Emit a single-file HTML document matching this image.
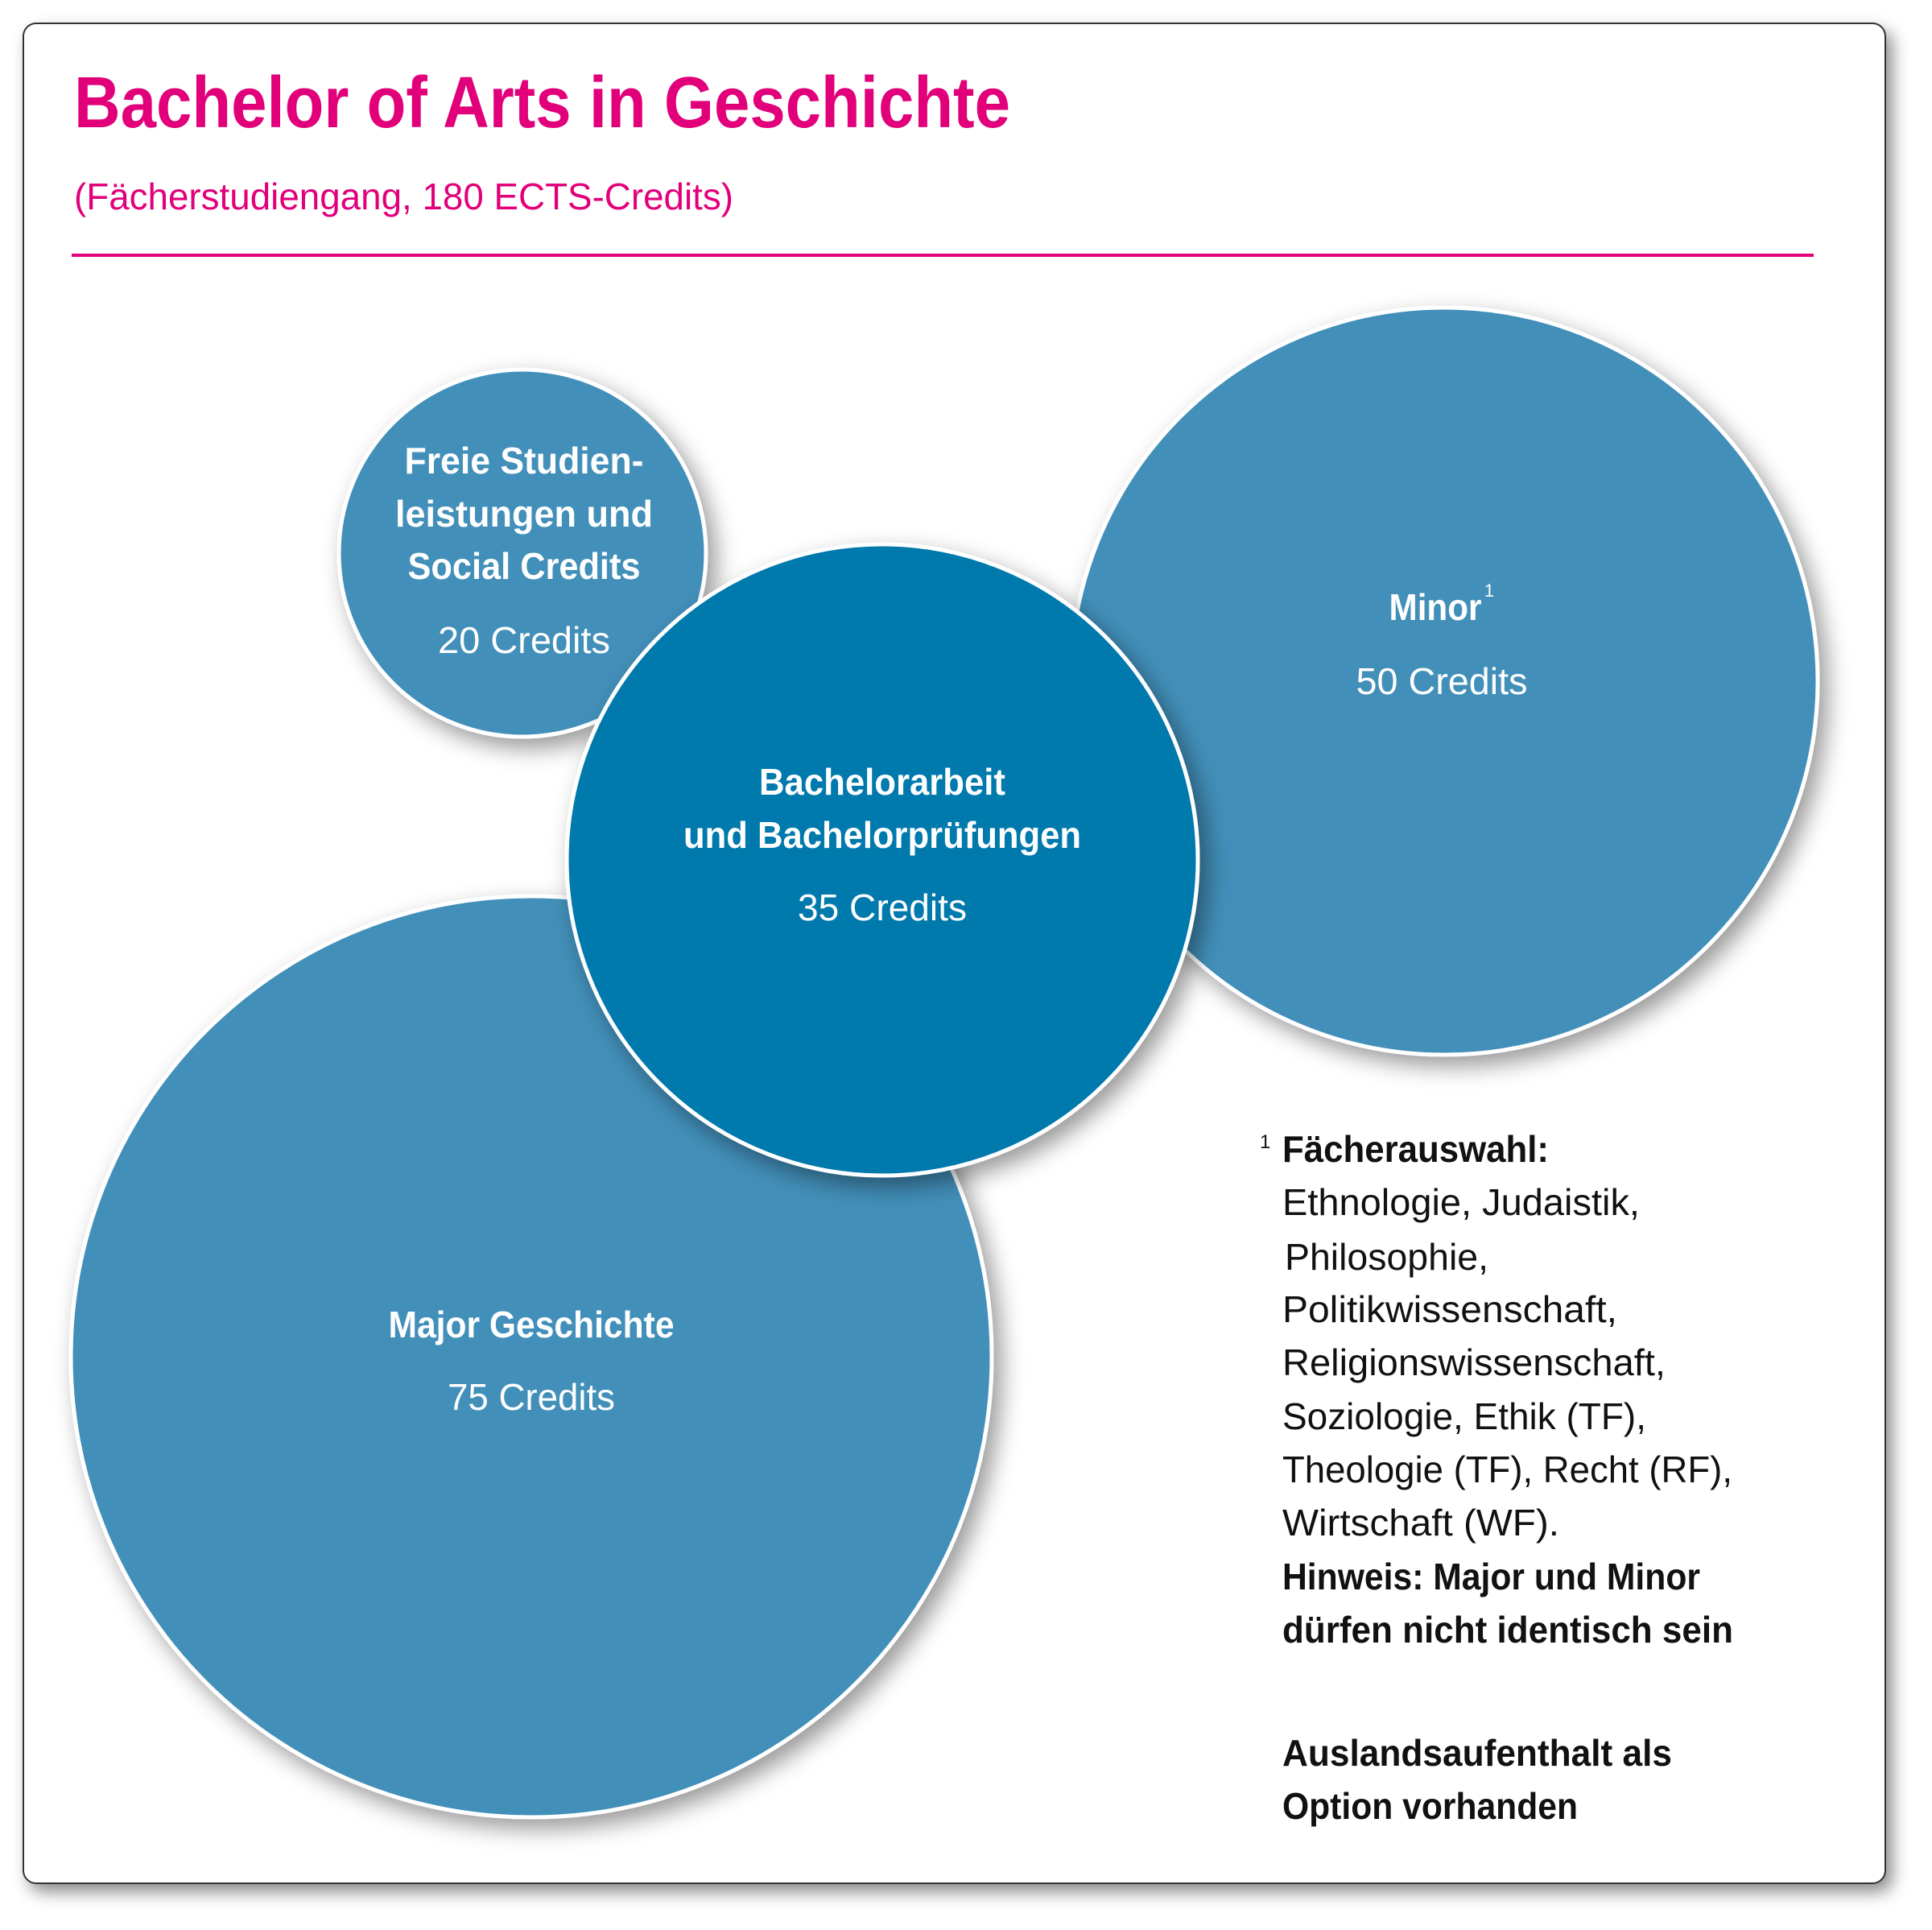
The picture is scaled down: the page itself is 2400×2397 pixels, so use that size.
<!DOCTYPE html>
<html><head><meta charset="utf-8"><style>
html,body{margin:0;padding:0;background:#fff;}
svg{display:block;}
text{font-family:"Liberation Sans",sans-serif;}
</style></head><body>
<svg width="2400" height="2397" viewBox="0 0 2400 2397" xmlns="http://www.w3.org/2000/svg">
<defs>
<filter id="fs" x="-10%" y="-10%" width="125%" height="125%">
<feDropShadow dx="8" dy="10" stdDeviation="10" flood-color="#000" flood-opacity="0.45"/>
</filter>
<filter id="cs" x="-20%" y="-20%" width="145%" height="145%">
<feDropShadow dx="10" dy="12" stdDeviation="14" flood-color="#000" flood-opacity="0.4"/>
</filter>
</defs>
<rect x="0" y="0" width="2400" height="2397" fill="#fff"/>
<rect x="29" y="29" width="2313" height="2310" rx="16" fill="#fff" stroke="#333" stroke-width="2" filter="url(#fs)"/>

<text x="92" y="158" font-size="90" font-weight="bold" fill="#e2007a" textLength="1163" lengthAdjust="spacingAndGlyphs">Bachelor of Arts in Geschichte</text>
<text x="92" y="260" font-size="46" fill="#e2007a" textLength="819" lengthAdjust="spacingAndGlyphs">(Fächerstudiengang, 180 ECTS-Credits)</text>
<rect x="89" y="315" width="2164" height="4" fill="#e2007a"/>

<g stroke="#fff" stroke-width="5">
<circle cx="649" cy="687" r="228" fill="#428fb9" filter="url(#cs)"/>
<circle cx="1794" cy="846" r="464" fill="#428fb9" filter="url(#cs)"/>
<circle cx="660" cy="1685" r="572" fill="#428fb9" filter="url(#cs)"/>
<circle cx="1096" cy="1068" r="392" fill="#0479ad" filter="url(#cs)"/>
</g>

<g fill="#fff" text-anchor="middle" font-size="46">
<text x="651" y="588" font-weight="bold" textLength="297" lengthAdjust="spacingAndGlyphs">Freie Studien-</text>
<text x="651" y="654" font-weight="bold" textLength="320" lengthAdjust="spacingAndGlyphs">leistungen und</text>
<text x="651" y="719" font-weight="bold" textLength="289" lengthAdjust="spacingAndGlyphs">Social Credits</text>
<text x="651" y="811" textLength="214" lengthAdjust="spacingAndGlyphs">20 Credits</text>

<text x="1783" y="770" font-weight="bold" textLength="115" lengthAdjust="spacingAndGlyphs">Minor</text>
<text x="1850" y="741" font-size="22">1</text>
<text x="1791" y="862" textLength="213" lengthAdjust="spacingAndGlyphs">50 Credits</text>

<text x="1096" y="987" font-weight="bold" textLength="306" lengthAdjust="spacingAndGlyphs">Bachelorarbeit</text>
<text x="1096" y="1053" font-weight="bold" textLength="494" lengthAdjust="spacingAndGlyphs">und Bachelorprüfungen</text>
<text x="1096" y="1143" textLength="210" lengthAdjust="spacingAndGlyphs">35 Credits</text>

<text x="660" y="1661" font-weight="bold" textLength="355" lengthAdjust="spacingAndGlyphs">Major Geschichte</text>
<text x="660" y="1751" textLength="208" lengthAdjust="spacingAndGlyphs">75 Credits</text>
</g>

<g fill="#111" font-size="46">
<text x="1565" y="1426" font-size="24">1</text>
<text x="1593" y="1443" font-weight="bold" textLength="331" lengthAdjust="spacingAndGlyphs">Fächerauswahl:</text>
<text x="1593" y="1509" textLength="444" lengthAdjust="spacingAndGlyphs">Ethnologie, Judaistik,</text>
<text x="1596" y="1577" textLength="253" lengthAdjust="spacingAndGlyphs">Philosophie,</text>
<text x="1593" y="1642" textLength="416" lengthAdjust="spacingAndGlyphs">Politikwissenschaft,</text>
<text x="1593" y="1708" textLength="476" lengthAdjust="spacingAndGlyphs">Religionswissenschaft,</text>
<text x="1593" y="1775" textLength="452" lengthAdjust="spacingAndGlyphs">Soziologie, Ethik (TF),</text>
<text x="1593" y="1841" textLength="559" lengthAdjust="spacingAndGlyphs">Theologie (TF), Recht (RF),</text>
<text x="1593" y="1907" textLength="344" lengthAdjust="spacingAndGlyphs">Wirtschaft (WF).</text>
<text x="1593" y="1974" font-weight="bold" textLength="519" lengthAdjust="spacingAndGlyphs">Hinweis: Major und Minor</text>
<text x="1593" y="2040" font-weight="bold" textLength="560" lengthAdjust="spacingAndGlyphs">dürfen nicht identisch sein</text>
<text x="1593" y="2193" font-weight="bold" textLength="484" lengthAdjust="spacingAndGlyphs">Auslandsaufenthalt als</text>
<text x="1593" y="2259" font-weight="bold" textLength="367" lengthAdjust="spacingAndGlyphs">Option vorhanden</text>
</g>
</svg>
</body></html>
